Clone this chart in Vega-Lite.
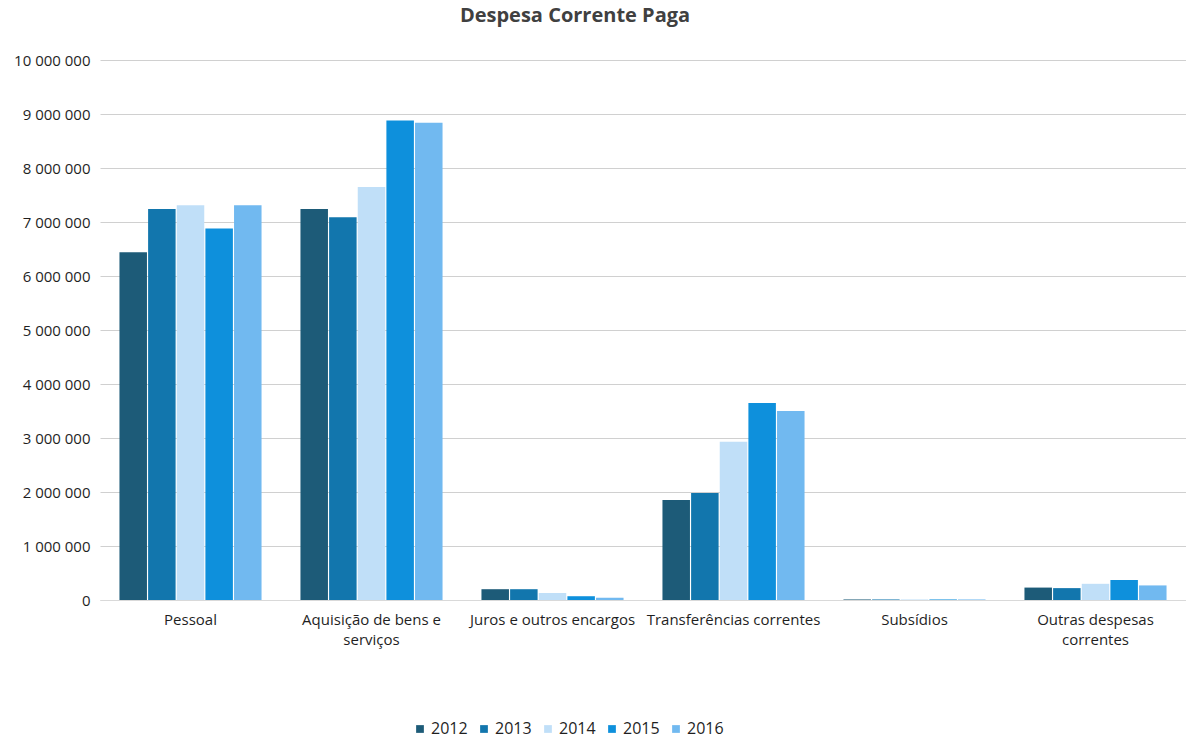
{
  "$schema": "https://vega.github.io/schema/vega-lite/v6.json",
  "autosize": {"type": "none"},
  "width": 1086,
  "height": 540,
  "padding": {"left": 100, "top": 60, "right": 0, "bottom": 139},
  "background": "white",
  "title": {
    "text": "Despesa Corrente Paga",
    "anchor": "middle",
    "dx": -68,
    "offset": 27,
    "fontSize": 20,
    "font": "Open Sans",
    "fontWeight": "bold",
    "color": "#404040"
  },
  "data": {
    "values": [
      {"rubrica": "Pessoal", "ano": "2012", "valor": 6440000},
      {"rubrica": "Pessoal", "ano": "2013", "valor": 7240000},
      {"rubrica": "Pessoal", "ano": "2014", "valor": 7310000},
      {"rubrica": "Pessoal", "ano": "2015", "valor": 6880000},
      {"rubrica": "Pessoal", "ano": "2016", "valor": 7310000},
      {"rubrica": "Aquisição de bens e serviços", "ano": "2012", "valor": 7240000},
      {"rubrica": "Aquisição de bens e serviços", "ano": "2013", "valor": 7090000},
      {"rubrica": "Aquisição de bens e serviços", "ano": "2014", "valor": 7650000},
      {"rubrica": "Aquisição de bens e serviços", "ano": "2015", "valor": 8880000},
      {"rubrica": "Aquisição de bens e serviços", "ano": "2016", "valor": 8840000},
      {"rubrica": "Juros e outros encargos", "ano": "2012", "valor": 200000},
      {"rubrica": "Juros e outros encargos", "ano": "2013", "valor": 200000},
      {"rubrica": "Juros e outros encargos", "ano": "2014", "valor": 130000},
      {"rubrica": "Juros e outros encargos", "ano": "2015", "valor": 70000},
      {"rubrica": "Juros e outros encargos", "ano": "2016", "valor": 40000},
      {"rubrica": "Transferências correntes", "ano": "2012", "valor": 1850000},
      {"rubrica": "Transferências correntes", "ano": "2013", "valor": 1980000},
      {"rubrica": "Transferências correntes", "ano": "2014", "valor": 2930000},
      {"rubrica": "Transferências correntes", "ano": "2015", "valor": 3650000},
      {"rubrica": "Transferências correntes", "ano": "2016", "valor": 3500000},
      {"rubrica": "Subsídios", "ano": "2012", "valor": 10000},
      {"rubrica": "Subsídios", "ano": "2013", "valor": 10000},
      {"rubrica": "Subsídios", "ano": "2014", "valor": 10000},
      {"rubrica": "Subsídios", "ano": "2015", "valor": 10000},
      {"rubrica": "Subsídios", "ano": "2016", "valor": 10000},
      {"rubrica": "Outras despesas correntes", "ano": "2012", "valor": 230000},
      {"rubrica": "Outras despesas correntes", "ano": "2013", "valor": 220000},
      {"rubrica": "Outras despesas correntes", "ano": "2014", "valor": 300000},
      {"rubrica": "Outras despesas correntes", "ano": "2015", "valor": 370000},
      {"rubrica": "Outras despesas correntes", "ano": "2016", "valor": 270000}
    ]
  },
  "mark": {"type": "bar"},
  "encoding": {
    "x": {
      "field": "rubrica",
      "type": "nominal",
      "sort": null,
      "scale": {"paddingInner": 0.215, "paddingOuter": 0.1075},
      "axis": {
        "title": null,
        "labelAngle": 0,
        "domain": true,
        "domainColor": "#d9d9d9",
        "ticks": false,
        "labelPadding": 12,
        "labelFont": "Open Sans",
        "labelFontSize": 15,
        "labelColor": "#1f1f1f",
        "labelLineHeight": 20,
        "labelExpr": "datum.label == 'Aquisição de bens e serviços' ? ['Aquisição de bens e', 'serviços'] : datum.label == 'Outras despesas correntes' ? ['Outras despesas', 'correntes'] : datum.label"
      }
    },
    "xOffset": {
      "field": "ano",
      "type": "nominal",
      "scale": {"paddingInner": 0.04}
    },
    "y": {
      "field": "valor",
      "type": "quantitative",
      "scale": {"domain": [0, 10000000], "nice": false},
      "axis": {
        "title": null,
        "values": [0, 1000000, 2000000, 3000000, 4000000, 5000000, 6000000, 7000000, 8000000, 9000000, 10000000],
        "labelOverlap": false,
        "format": ",d",
        "domain": false,
        "ticks": false,
        "labelPadding": 10,
        "labelFont": "Open Sans",
        "labelFontSize": 15,
        "labelColor": "#1f1f1f",
        "gridColor": "#d0d0d0",
        "gridWidth": 1
      }
    },
    "color": {
      "field": "ano",
      "type": "nominal",
      "scale": {
        "domain": ["2012", "2013", "2014", "2015", "2016"],
        "range": ["#1d5b78", "#1276ad", "#c0dff8", "#0e90dc", "#71b9f0"]
      },
      "legend": {
        "title": null,
        "orient": "none",
        "direction": "horizontal",
        "legendX": 312,
        "legendY": 661,
        "symbolType": "square",
        "symbolSize": 60,
        "symbolStrokeWidth": 0,
        "labelFont": "Open Sans",
        "labelFontSize": 16,
        "labelColor": "#1f1f1f",
        "columnPadding": 8,
        "labelOffset": 3
      }
    }
  },
  "config": {
    "view": {"stroke": null},
    "locale": {
      "number": {
        "decimal": ",",
        "thousands": " ",
        "grouping": [3],
        "currency": ["", " €"]
      }
    }
  }
}
